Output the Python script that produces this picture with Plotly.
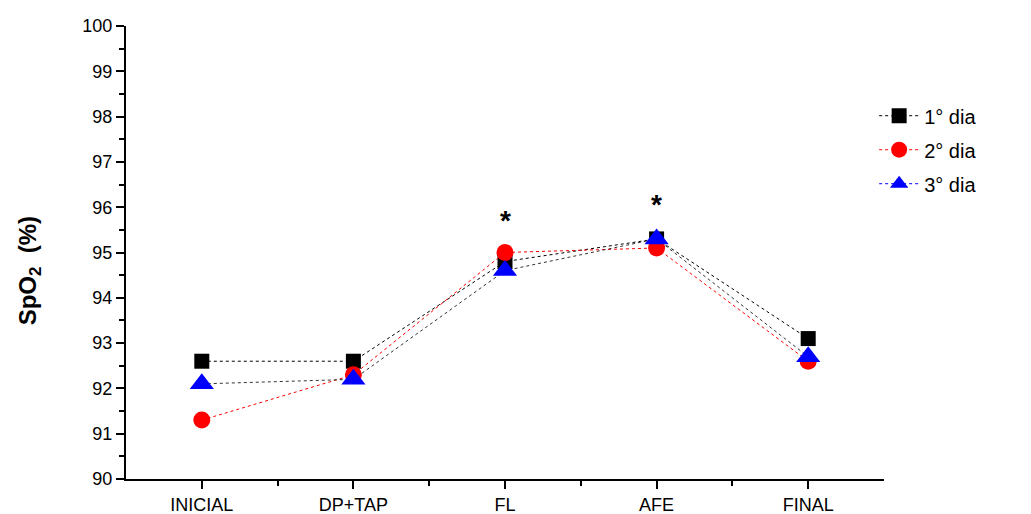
import plotly.graph_objects as go

categories = ["INICIAL", "DP+TAP", "FL", "AFE", "FINAL"]
dia1 = [92.6, 92.6, 94.8, 95.3, 93.1]
dia2 = [91.3, 92.3, 95.0, 95.1, 92.6]
dia3 = [92.1, 92.2, 94.6, 95.3, 92.7]
series_names = ["1° dia", "2° dia", "3° dia"]
y_ticks = list(range(90, 101))
star_cats = ["FL", "AFE"]
star_y = [95.7, 96.05]

xpos = list(range(1, len(categories) + 1))

fig = go.Figure()
# (values, marker colour, symbol, size, plotted line colour, legend line colour)
styles = [
    (dia1, "black", "square", 15, "black", "black"),
    (dia2, "red", "circle", 17, "red", "red"),
    (dia3, "blue", "triangle-up", 21, "#333333", "blue"),
]
for (vals, col, sym, sz, lcol, legcol), name in zip(styles, series_names):
    fig.add_trace(go.Scatter(
        x=xpos, y=vals, name=name, mode="lines+markers", legendgroup=name,
        showlegend=False,
        line=dict(color=lcol, width=1, dash="dot"),
        marker=dict(color=col, symbol=sym, size=sz, line=dict(width=0)),
    ))
    # legend entry (no data drawn)
    fig.add_trace(go.Scatter(
        x=[None], y=[None], name=name, mode="lines+markers", legendgroup=name,
        line=dict(color=legcol, width=1, dash="dot"),
        marker=dict(color=col, symbol=sym, size=sz, line=dict(width=0)),
    ))

for c, yv in zip(star_cats, star_y):
    fig.add_annotation(x=categories.index(c) + 1, y=yv, text="<b>*</b>",
                       showarrow=False, font=dict(size=28, color="black", family="Liberation Sans, Arial"))

fig.add_annotation(xref="paper", yref="paper", x=-0.127, y=0.46, textangle=-90,
                   text="<b>SpO<sub>2</sub>\u00a0\u00a0(%)</b>", showarrow=False,
                   xanchor="center", yanchor="middle",
                   font=dict(size=24, color="black", family="Liberation Sans, Arial"))

fig.update_layout(
    width=1023, height=506,
    margin=dict(l=118, r=147, t=18, b=35, autoexpand=False),
    plot_bgcolor="white", paper_bgcolor="white",
    font=dict(family="Liberation Sans, Arial", color="black"),
    legend=dict(x=0.987, y=0.845, xanchor="left", yanchor="top",
                font=dict(size=20), itemwidth=40, tracegroupgap=5,
                bgcolor="rgba(0,0,0,0)"),
)
fig.update_xaxes(
    range=[0.5, 5.5], tickmode="array", tickvals=xpos, ticktext=categories,
    showgrid=False, zeroline=False, showline=True, linecolor="black", linewidth=2,
    ticks="outside", ticklen=8, tickwidth=2, tickcolor="black",
    tickfont=dict(size=18), automargin=False,
    minor=dict(tickvals=[1.5, 2.5, 3.5, 4.5], ticks="outside", ticklen=5, tickwidth=2, tickcolor="black"),
)
fig.update_yaxes(
    range=[90, 100], tickmode="array", tickvals=y_ticks,
    showgrid=False, zeroline=False, showline=True, linecolor="black", linewidth=2,
    ticks="outside", ticklen=8, tickwidth=2, tickcolor="black",
    tickfont=dict(size=18), automargin=False,
    minor=dict(dtick=0.5, ticks="outside", ticklen=5, tickwidth=2, tickcolor="black"),
)
fig.write_html("out.html")
